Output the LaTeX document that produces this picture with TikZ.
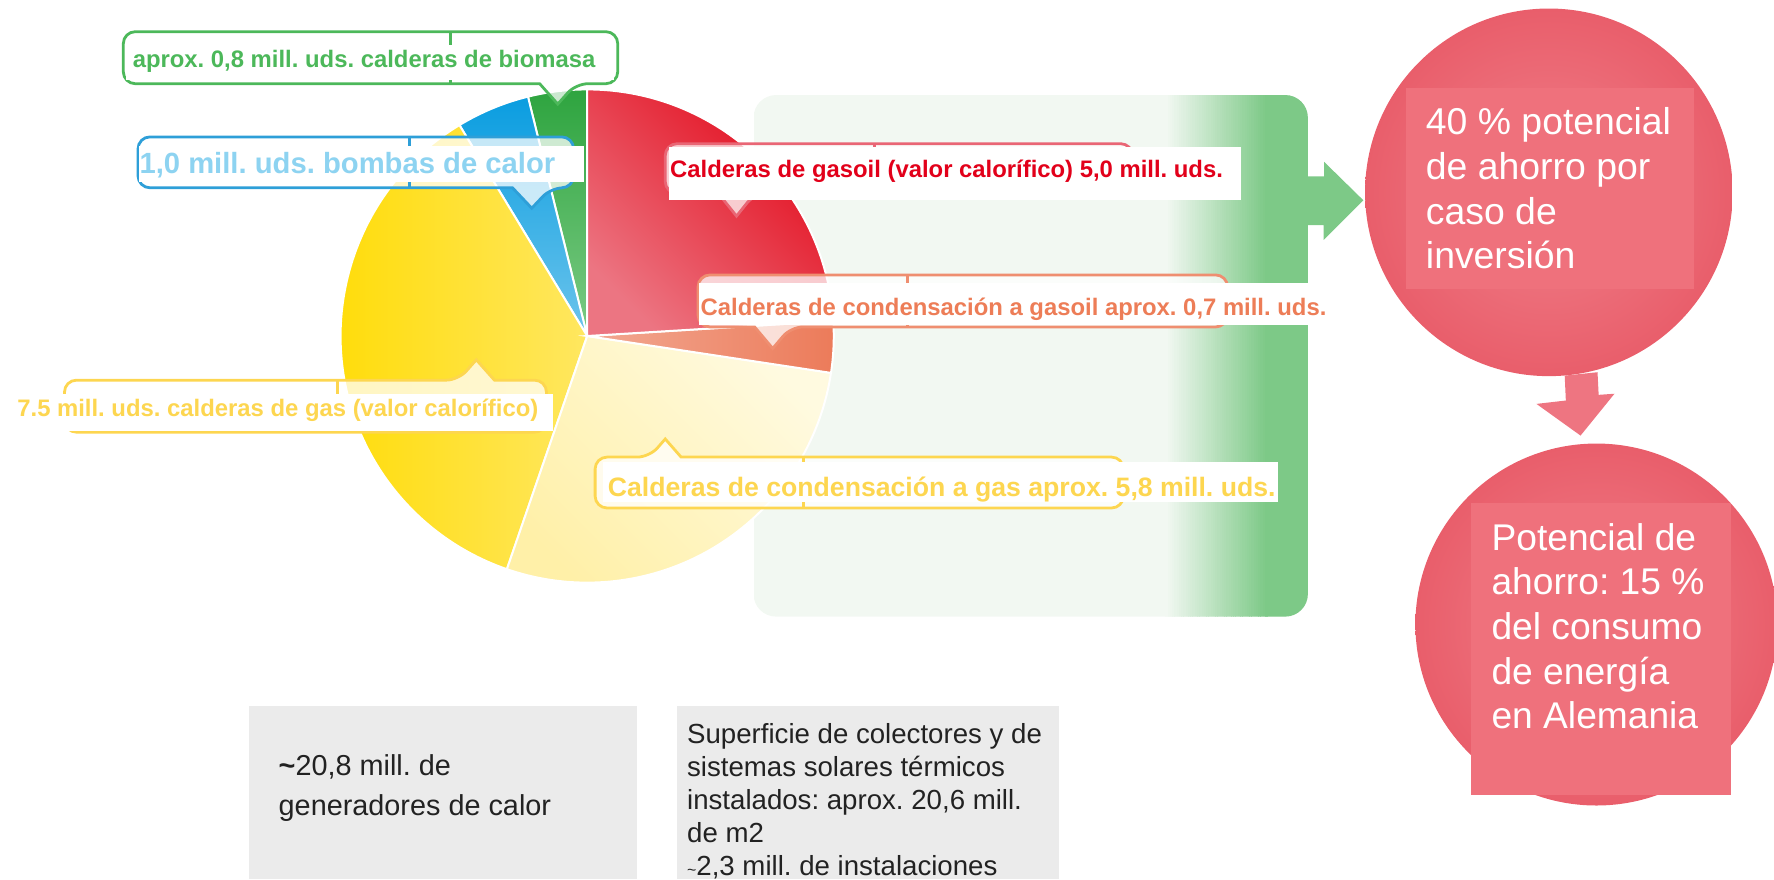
\documentclass[tikz,border=0pt]{standalone}
\usepackage{fontspec}
\setmainfont{Liberation Sans}
\frenchspacing
\definecolor{verdeT}{HTML}{4CB85A}
\definecolor{verdeO}{HTML}{2EA43F}
\definecolor{verdeC}{HTML}{7CCB85}
\definecolor{azulB}{HTML}{2E9FD8}
\definecolor{azulT}{HTML}{8DD3F1}
\definecolor{azulO}{HTML}{0A9DE0}
\definecolor{azulC}{HTML}{6CC4EC}
\definecolor{rojoT}{HTML}{E2001A}
\definecolor{rojoB}{HTML}{E96675}
\definecolor{rojoO}{HTML}{E30B1C}
\definecolor{rojoC}{HTML}{EC7582}
\definecolor{naranjaT}{HTML}{ED7D57}
\definecolor{naranjaB}{HTML}{EF8E70}
\definecolor{naranjaO}{HTML}{EC7B5A}
\definecolor{naranjaC}{HTML}{F2A892}
\definecolor{amarilloT}{HTML}{FDD650}
\definecolor{amarilloO}{HTML}{FFDB00}
\definecolor{amarilloC}{HTML}{FFE760}
\definecolor{cremaO}{HTML}{FFF0A8}
\definecolor{cremaC}{HTML}{FFFAE0}
\definecolor{panelC}{HTML}{F2F8F2}
\definecolor{panelO}{HTML}{7DC987}
\definecolor{rosa}{HTML}{E95E6B}
\definecolor{rosaC}{HTML}{F0808A}
\definecolor{rosaR}{HTML}{EF717C}
\definecolor{rosaF}{HTML}{EE7581}
\definecolor{gris}{HTML}{EBEBEB}
\definecolor{texto}{HTML}{222222}

\begin{document}
\begin{tikzpicture}[x=0.02cm, y=-0.02cm,
    globo/.style={line width=1.4pt, fill=white, fill opacity=0.75, rounded corners=6pt},
    divisor/.style={line width=1.4pt},
    etiqueta/.style={anchor=base west, inner sep=0pt, font=\bfseries\fontsize{12}{14}\selectfont},
    sector/.style={draw=white, line width=1pt},
    circulo/.style={circle, inner color=rosaC, outer color=rosa, minimum size=6.5cm, inner sep=0pt},
    blanco/.style={white, align=left, anchor=north west, inner sep=0pt, font=\fontsize{18.8}{22.4}\selectfont},
    negro/.style={texto, align=left, anchor=north west, inner sep=0pt, font=\fontsize{13.9}{16.6}\selectfont}]
\useasboundingbox (0,0) rectangle (1568,777);

% Panel verde
\begin{scope}
    \clip[rounded corners=0.4cm] (666,84) rectangle (1156,545);
    \fill[panelC] (666,84) rectangle (1156,545);
    \foreach \i in {0,...,44} {
        \pgfmathsetmacro\p{100*\i/44}
        \fill[panelO!\p!panelC] (1030+2*\i,84) rectangle (1032.5+2*\i,545);
    }
    \fill[panelO] (1118,84) rectangle (1156,545);
\end{scope}
\node (panel) [minimum width=9.8cm, minimum height=9.22cm, inner sep=0pt] at (911,314.5) {};

% Circulo: potencial de ahorro
\node (ahorro) [circulo] at (1369,170) {};
\fill[rosaR] (1243,78) rectangle (1497,255);
\node (txtahorro) [blanco] at (1260,95) {40 \% potencial\\de ahorro por\\caso de\\inversión};

% Circulo: consumo de energia
\node (potencial) [circulo, minimum size=6.4cm] at (1411,552) {};
\fill[rosaR] (1300,445) rectangle (1530,703);
\node (txtpotencial) [blanco, font=\fontsize{18.7}{22.5}\selectfont] at (1318,462) {Potencial de\\ahorro: 15 \%\\del consumo\\de energía\\en Alemania};

% Flecha verde
\coordinate (fv) at (panel.east |- 0,177);
\coordinate (fp) at (1205,177);
\fill[panelO] (fv) ++(-6,-21) -- ++(20,0) -- ++(0,-13) -- (fp) -- ++(-35,35) -- ++(0,-13) -- ++(-20,0) -- cycle;

% Flecha rosa
\coordinate (fb) at (1397,385);
\fill[rosaF] (1383,332) -- (1412,329) -- (1413,349) -- (1427,348) -- (fb) -- (1358,357) -- (1384,354) -- cycle;

% Grafico circular
\coordinate (c) at (519,297);
\shadedraw[sector, top color=verdeO, bottom color=verdeC] (c) -- ++(90:4.36cm) arc[start angle=90, end angle=103.9, radius=4.36cm] -- cycle;
\shadedraw[sector, top color=azulO, bottom color=azulC] (c) -- ++(103.9:4.36cm) arc[start angle=103.9, end angle=121.2, radius=4.36cm] -- cycle;
\shadedraw[sector, left color=amarilloO, right color=amarilloC] (c) -- ++(121.2:4.36cm) arc[start angle=121.2, end angle=251, radius=4.36cm] -- cycle;
\shadedraw[sector, top color=cremaC, bottom color=cremaO, shading angle=-45] (c) -- ++(251:4.36cm) arc[start angle=251, end angle=351.4, radius=4.36cm] -- cycle;
\shadedraw[sector, left color=naranjaC, right color=naranjaO] (c) -- ++(351.4:4.36cm) arc[start angle=351.4, end angle=363.5, radius=4.36cm] -- cycle;
\shadedraw[sector, top color=rojoO, bottom color=rojoC, shading angle=-45] (c) -- ++(3.5:4.36cm) arc[start angle=3.5, end angle=90, radius=4.36cm] -- cycle;

% Globo biomasa
\draw[globo, draw=verdeT] (477,74) -- (109,74) -- (109,28) -- (546,28) -- (546,74) -- (509,74) [sharp corners] -- (493,92) -- cycle;
\draw[divisor, verdeT] (398,28) -- (398,74);
\fill[white] (111,40) rectangle (543,71);
\node (biomasa) [etiqueta, verdeT] at (117,60) {aprox. 0,8 mill. uds. calderas de biomasa};

% Globo bombas de calor
\draw[globo, draw=azulB] (453,166) -- (122,166) -- (122,121) -- (507,121) -- (507,166) -- (487,166) [sharp corners] -- (470,184) -- cycle;
\draw[divisor, azulB] (362,121) -- (362,166);
\fill[white] (123,129) rectangle (516,161);
\node (bombas) [etiqueta, azulT, font=\bfseries\fontsize{14.7}{17}\selectfont] at (123,153) {1,0 mill. uds. bombas de calor};

% Globo calderas de gasoil
\draw[globo, draw=rojoB] (635,171) -- (588,171) -- (588,127) -- (1001,127) -- (1001,171) -- (667,171) [sharp corners] -- (651,191) -- cycle;
\draw[divisor, rojoB] (773,127) -- (773,171);
\fill[white] (591,130) rectangle (1097,177);
\node (gasoil) [etiqueta, rojoT] at (592,156.5) {Calderas de gasoil (valor calorífico) 5,0 mill. uds.};

% Globo condensacion a gasoil
\draw[globo, draw=naranjaB] (667,289) -- (617,289) -- (617,243) -- (1085,243) -- (1085,289) -- (699,289) [sharp corners] -- (683,308) -- cycle;
\draw[divisor, naranjaB] (802,243) -- (802,289);
\fill[white] (618,250) rectangle (1180,287);
\node (condgasoil) [etiqueta, naranjaT] at (619,278.5) {Calderas de condensación a gasoil aprox. 0,7 mill. uds.};

% Globo calderas de gas
\draw[globo, draw=amarilloT] (437,336) -- (483,336) -- (483,382) -- (57,382) -- (57,336) -- (405,336) [sharp corners] -- (421,318) -- cycle;
\draw[divisor, amarilloT] (298,336) -- (298,382);
\fill[white] (13,348) rectangle (489,381);
\node (gas) [etiqueta, amarilloT] at (15,368) {7.5 mill. uds. calderas de gas (valor calorífico)};

% Globo condensacion a gas
\draw[globo, draw=amarilloT] (602,404) -- (993,404) -- (993,449) -- (526,449) -- (526,404) -- (574,404) [sharp corners] -- (588,388) -- cycle;
\draw[divisor, amarilloT] (710,404) -- (710,449);
\fill[white] (533,408) rectangle (1130,444);
\node (condgas) [etiqueta, amarilloT, font=\bfseries\fontsize{13.4}{16}\selectfont] at (537,439) {Calderas de condensación a gas aprox. 5,8 mill. uds.};

% Cajas grises
\fill[gris] (220,624) rectangle (563,777);
\node (generadores) [negro, font=\fontsize{14.5}{20}\selectfont] at (246,667) {{\bfseries\textasciitilde}20,8 mill. de\\generadores de calor};
\fill[gris] (598,624) rectangle (936,777);
\node (solar) [negro] at (607,639) {Superficie de colectores y de\\sistemas solares térmicos\\instalados: aprox. 20,6 mill.\\de m2\\{\footnotesize\textasciitilde}2,3 mill. de instalaciones};
\end{tikzpicture}
\end{document}
